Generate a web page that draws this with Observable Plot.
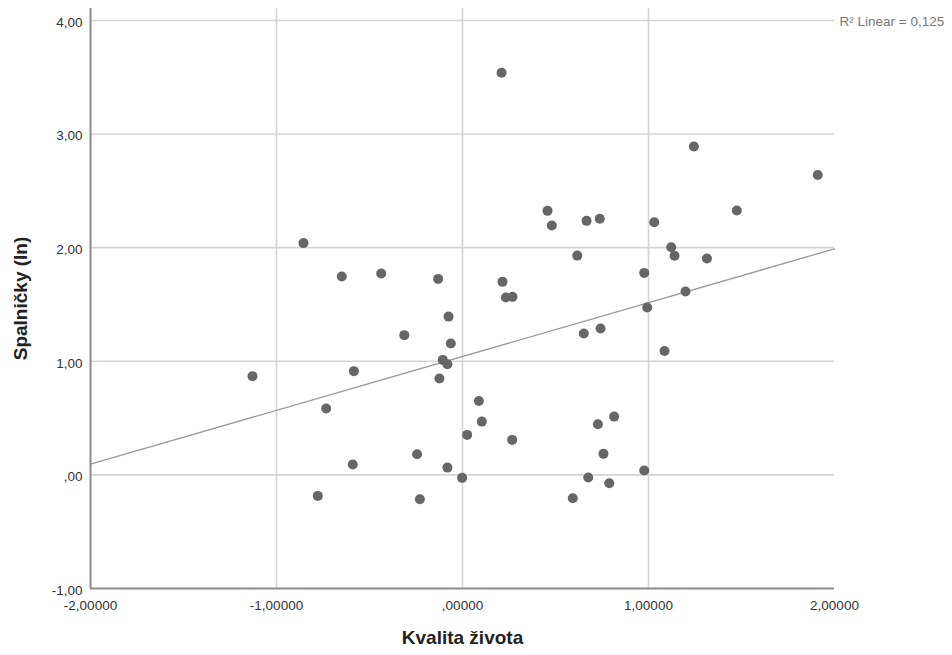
<!DOCTYPE html>
<html>
<head>
<meta charset="utf-8">
<script src="https://cdn.jsdelivr.net/npm/d3@7"></script>
<script src="https://cdn.jsdelivr.net/npm/@observablehq/plot@0.6"></script>
<style>
  html, body { margin: 0; padding: 0; background: #fff; }
  #chart svg { display: block; }
</style>
</head>
<body>
<div id="chart"></div>
<script>
// Kvalita života (x) vs Spalničky (ln) (y)
const kvalita = [
  -1.129, -0.855, -0.778, -0.733, -0.649, -0.590, -0.584, -0.437, -0.313, -0.244,
  -0.229, -0.131, -0.124, -0.106, -0.081, -0.081, -0.075, -0.063, -0.002, 0.025,
  0.088, 0.104, 0.210, 0.215, 0.233, 0.269, 0.267, 0.457, 0.480, 0.593,
  0.617, 0.652, 0.667, 0.676, 0.728, 0.738, 0.742, 0.758, 0.789, 0.815,
  0.977, 0.977, 0.993, 1.031, 1.086, 1.122, 1.140, 1.199, 1.244, 1.314,
  1.475, 1.910
];
const spalnicky = [
  0.869, 2.040, -0.185, 0.584, 1.746, 0.091, 0.913, 1.772, 1.230, 0.182,
  -0.214, 1.725, 0.848, 1.012, 0.974, 0.064, 1.393, 1.156, -0.026, 0.352,
  0.651, 0.469, 3.539, 1.699, 1.561, 1.567, 0.308, 2.324, 2.195, -0.205,
  1.930, 1.244, 2.236, -0.023, 0.446, 2.254, 1.288, 0.185, -0.073, 0.513,
  1.778, 0.038, 1.473, 2.224, 1.090, 2.004, 1.928, 1.614, 2.890, 1.904,
  2.327, 2.640
];
// Fit line endpoints as drawn
const fitX = [-2, 2];
const fitY = [0.094, 1.990];
const xTicks = [-2, -1, 0, 1, 2];
const yTicks = [-1, 0, 1, 2, 3, 4];
const r2Label = "R² Linear = 0,125";
const xTitle = "Kvalita života";
const yTitle = "Spalničky (ln)";

const points = kvalita.map((x, i) => ({x, y: spalnicky[i]}));
const fit = fitX.map((x, i) => ({x, y: fitY[i]}));

function fmt(decimals) {
  const f = d3.format(`.${decimals}f`);
  return v => f(v).replace("\u2212", "-").replace(/^(-?)0\./, "$1.").replace(".", ",");
}

const font = "'Liberation Sans', Arial, sans-serif";

const chart = Plot.plot({
  width: 952,
  height: 655,
  marginLeft: 90,
  marginRight: 118,
  marginTop: 8,
  marginBottom: 67,
  style: {fontFamily: font, background: "#fff", color: "#333"},
  x: {domain: [-2, 2], label: null},
  y: {domain: [-1, 4.105], label: null},
  marks: [
    Plot.ruleX([-1, 0, 1], {stroke: "#d4d4d4", strokeWidth: 1.6}),
    Plot.ruleY([0, 1, 2, 3, 4], {stroke: "#d4d4d4", strokeWidth: 1.6}),
    Plot.ruleX([-2], {stroke: "#8a8a8a", strokeWidth: 2}),
    Plot.ruleY([-1], {stroke: "#8a8a8a", strokeWidth: 2}),
    Plot.line(fit, {x: "x", y: "y", stroke: "#9a9a9a", strokeWidth: 1.3}),
    Plot.dot(points, {x: "x", y: "y", r: 5, fill: "#666", stroke: "none"}),
    Plot.axisX(xTicks, {tickSize: 0, tickPadding: 12, tickFormat: fmt(5), fontSize: 13.5, fill: "#333", label: null}),
    Plot.axisY(yTicks, {tickSize: 0, tickPadding: 8, tickFormat: fmt(2), fontSize: 13.5, fill: "#333", dy: 2, label: null}),
    Plot.text([xTitle], {frameAnchor: "bottom", dy: 49, lineAnchor: "middle", textAnchor: "middle", text: d => d, fontSize: 19, fontWeight: "bold", fill: "#222"}),
    Plot.text([yTitle], {frameAnchor: "left", dx: -70, rotate: -90, lineAnchor: "middle", textAnchor: "middle", text: d => d, fontSize: 19, fontWeight: "bold", fill: "#222"}),
    Plot.text([r2Label], {frameAnchor: "top-right", dx: 5, dy: 13, lineAnchor: "middle", textAnchor: "start", text: d => d, fontSize: 13.5, fill: "#777"})
  ]
});
document.getElementById("chart").appendChild(chart);
</script>
</body>
</html>
